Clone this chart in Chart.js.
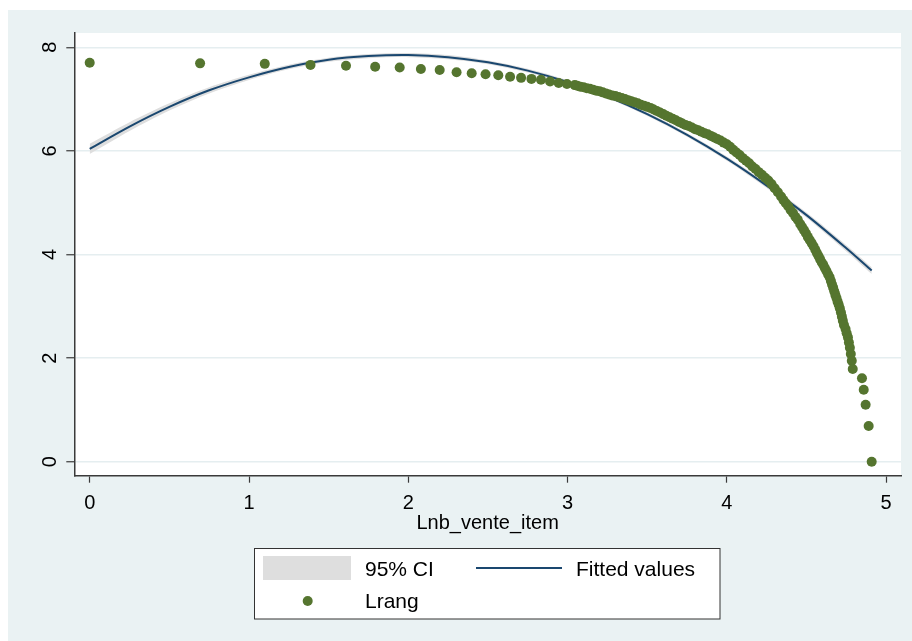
<!DOCTYPE html>
<html>
<head>
<meta charset="utf-8">
<script src="https://cdn.jsdelivr.net/npm/chart.js@4.4.0/dist/chart.umd.min.js"></script>
<style>
  body { margin: 0; background: #fff; }
  #wrap { position: relative; width: 912px; height: 641px; }
</style>
</head>
<body>
<div id="wrap"><canvas id="chart"></canvas></div>
<script>
// Lnb_vente_item (x) / Lrang (y) observations
const lnbVente = [
  0, 0.693, 1.099, 1.386, 1.609, 1.792, 1.946, 2.079, 2.197, 2.303, 2.398,
  2.485, 2.565, 2.639, 2.708, 2.773, 2.833, 2.890, 2.944, 2.996, 3.045,
  3.06, 3.08, 3.10, 3.12, 3.14, 3.16, 3.18, 3.20, 3.22, 3.24, 3.26, 3.28,
  3.30, 3.32, 3.34, 3.36, 3.38, 3.40, 3.42, 3.44, 3.46, 3.48, 3.50, 3.52,
  3.54, 3.56, 3.58, 3.60, 3.62, 3.64, 3.66, 3.68, 3.70, 3.72, 3.74, 3.76,
  3.78, 3.80, 3.82, 3.84, 3.86, 3.88, 3.90, 3.92, 3.94, 3.96, 3.98, 4.00,
  4.02, 4.04, 4.06, 4.08, 4.10, 4.12, 4.14, 4.16, 4.18, 4.20, 4.22, 4.24,
  4.26, 4.28, 4.30, 4.32, 4.34, 4.355, 4.37, 4.385, 4.40, 4.415, 4.43,
  4.445, 4.46, 4.472, 4.484, 4.496, 4.508, 4.52, 4.532, 4.544, 4.555,
  4.565, 4.575, 4.585, 4.595, 4.605, 4.615, 4.625, 4.635, 4.645, 4.653,
  4.66, 4.667, 4.674, 4.681, 4.688, 4.695, 4.702, 4.709, 4.716, 4.722,
  4.728, 4.735, 4.745, 4.752, 4.76, 4.766, 4.772, 4.778, 4.784, 4.79,
  4.848, 4.859, 4.871, 4.89, 4.909
];
const lrang = [
  7.70, 7.69, 7.68, 7.66, 7.645, 7.625, 7.61, 7.58, 7.56, 7.52, 7.50,
  7.48, 7.46, 7.43, 7.41, 7.39, 7.375, 7.34, 7.31, 7.29, 7.27,
  7.26, 7.24, 7.23, 7.21, 7.20, 7.18, 7.16, 7.15, 7.13, 7.11, 7.09, 7.07,
  7.06, 7.04, 7.02, 7.00, 6.98, 6.96, 6.94, 6.92, 6.89, 6.87, 6.85, 6.83,
  6.80, 6.77, 6.74, 6.71, 6.68, 6.65, 6.62, 6.59, 6.56, 6.53, 6.50, 6.48,
  6.45, 6.42, 6.40, 6.37, 6.34, 6.32, 6.29, 6.26, 6.23, 6.20, 6.16, 6.13,
  6.08, 6.02, 5.97, 5.92, 5.86, 5.81, 5.76, 5.70, 5.65, 5.59, 5.54, 5.48,
  5.43, 5.36, 5.28, 5.20, 5.12, 5.05, 4.99, 4.93, 4.86, 4.80, 4.73,
  4.67, 4.59, 4.53, 4.47, 4.41, 4.34, 4.28, 4.22, 4.16, 4.09,
  4.03, 3.97, 3.91, 3.85, 3.80, 3.74, 3.68, 3.62, 3.56, 3.49,
  3.42, 3.36, 3.29, 3.22, 3.16, 3.09, 3.03, 2.96, 2.88, 2.80,
  2.72, 2.64, 2.56, 2.48, 2.40, 2.30, 2.20, 2.08, 1.95, 1.79,
  1.61, 1.39, 1.10, 0.69, 0
];

// quadratic fit and its 95% CI
const fitX = [0, 0.25, 0.5, 0.75, 1, 1.25, 1.5, 1.75, 2, 2.25, 2.5, 2.75, 3,
  3.25, 3.5, 3.75, 4, 4.25, 4.5, 4.75, 4.909];
const fitY = [6.04, 6.47, 6.85, 7.17, 7.42, 7.62, 7.76, 7.83, 7.85, 7.81, 7.71,
  7.55, 7.33, 7.05, 6.71, 6.31, 5.85, 5.33, 4.76, 4.12, 3.69];
const ciHigh = [6.14, 6.555, 6.92, 7.23, 7.47, 7.665, 7.80, 7.87, 7.89, 7.85,
  7.745, 7.585, 7.365, 7.085, 6.745, 6.345, 5.89, 5.375, 4.81, 4.18, 3.755];
const ciLow = [5.94, 6.385, 6.78, 7.11, 7.37, 7.575, 7.72, 7.79, 7.81, 7.77,
  7.675, 7.515, 7.295, 7.015, 6.675, 6.275, 5.81, 5.285, 4.71, 4.06, 3.625];

const xTicks = [0, 1, 2, 3, 4, 5];
const yTicks = [0, 2, 4, 6, 8];

const GREEN = "#55752F";
const NAVY = "#1A476F";
const CI_GREY = "#DEDEDE";
const OUTER = "#EAF2F3";
const AXIS = "#3a3a3a";
const FONT = '"Liberation Sans", Arial, sans-serif';

const toPts = (xs, ys) => xs.map((x, i) => ({ x, y: ys[i] }));

// backgrounds, rotated y labels, x labels, axis title and legend box
const stataLook = {
  id: "stataLook",
  beforeDraw(chart) {
    const { ctx, chartArea: a } = chart;
    ctx.save();
    ctx.fillStyle = "#fff";
    ctx.fillRect(0, 0, chart.width, chart.height);
    ctx.fillStyle = OUTER;
    ctx.fillRect(8, 10, chart.width - 8, chart.height - 10);
    ctx.fillStyle = "#fff";
    ctx.fillRect(a.left, a.top, a.right - a.left, a.bottom - a.top);
    ctx.restore();
  },
  afterDraw(chart) {
    const { ctx, chartArea: a } = chart;
    const xs = chart.scales.x, ys = chart.scales.y;
    ctx.save();
    ctx.fillStyle = "#000";
    ctx.font = "20px " + FONT;

    // y tick labels, rotated
    ctx.textAlign = "center";
    ctx.textBaseline = "alphabetic";
    yTicks.forEach((v) => {
      ctx.save();
      ctx.translate(55.5, ys.getPixelForValue(v));
      ctx.rotate(-Math.PI / 2);
      ctx.fillText(String(v), 0, 0);
      ctx.restore();
    });

    // x tick labels
    xTicks.forEach((v) => {
      ctx.fillText(String(v), xs.getPixelForValue(v), 508.5);
    });

    // x axis title
    ctx.fillText("Lnb_vente_item", (a.left + a.right) / 2, 529);

    // legend
    ctx.fillStyle = "#fff";
    ctx.fillRect(254.5, 548.5, 465.5, 70.5);
    ctx.strokeStyle = "#333";
    ctx.lineWidth = 1;
    ctx.strokeRect(254.5, 548.5, 465.5, 70.5);

    ctx.fillStyle = CI_GREY;
    ctx.fillRect(263, 556, 88, 24);

    ctx.strokeStyle = NAVY;
    ctx.lineWidth = 2;
    ctx.beginPath();
    ctx.moveTo(476, 568);
    ctx.lineTo(562, 568);
    ctx.stroke();

    ctx.fillStyle = GREEN;
    ctx.beginPath();
    ctx.arc(307.7, 601, 5, 0, Math.PI * 2);
    ctx.fill();

    ctx.fillStyle = "#000";
    ctx.font = "21px " + FONT;
    ctx.textAlign = "left";
    ctx.fillText("95% CI", 365, 576);
    ctx.fillText("Fitted values", 576, 576);
    ctx.fillText("Lrang", 365, 608);
    ctx.restore();
  },
};

new Chart(document.getElementById("chart"), {
  type: "line",
  data: {
    datasets: [
      {
        label: "Lrang",
        data: toPts(lnbVente, lrang),
        showLine: false,
        pointRadius: 5,
        pointBackgroundColor: GREEN,
        pointBorderWidth: 0,
        order: 0,
      },
      {
        label: "Fitted values",
        data: toPts(fitX, fitY),
        borderColor: NAVY,
        borderWidth: 2,
        pointRadius: 0,
        tension: 0.3,
        fill: false,
        order: 1,
      },
      {
        label: "95% CI",
        data: toPts(fitX, ciHigh),
        borderWidth: 0,
        borderColor: "rgba(0,0,0,0)",
        backgroundColor: CI_GREY,
        pointRadius: 0,
        tension: 0.3,
        fill: "+1",
        order: 2,
      },
      {
        label: "ci low",
        data: toPts(fitX, ciLow),
        borderWidth: 0,
        borderColor: "rgba(0,0,0,0)",
        pointRadius: 0,
        tension: 0.3,
        fill: false,
        order: 3,
      },
    ],
  },
  options: {
    responsive: true,
    maintainAspectRatio: false,
    animation: false,
    layout: { padding: { left: 0, top: 33, right: 11, bottom: 0 } },
    plugins: {
      legend: { display: false },
      tooltip: { enabled: false },
    },
    scales: {
      x: {
        type: "linear",
        min: -0.0967,
        max: 5.093,
        afterFit: (s) => { s.height = 165.3; },
        afterBuildTicks: (s) => { s.ticks = xTicks.map((v) => ({ value: v })); },
        ticks: { display: false },
        grid: {
          drawOnChartArea: false,
          drawTicks: true,
          tickLength: 7,
          tickColor: AXIS,
          tickWidth: 1.2,
        },
        border: { display: true, color: AXIS, width: 1.5 },
      },
      y: {
        type: "linear",
        min: -0.2703,
        max: 8.276,
        afterFit: (s) => { s.width = 74.3; },
        afterBuildTicks: (s) => { s.ticks = yTicks.map((v) => ({ value: v })); },
        ticks: { display: false },
        grid: {
          color: "#E5EEF0",
          lineWidth: 1.5,
          drawTicks: true,
          tickLength: 8,
          tickColor: AXIS,
          tickWidth: 1.2,
        },
        border: { display: true, color: AXIS, width: 1.5 },
      },
    },
  },
  plugins: [stataLook],
});
</script>
</body>
</html>
